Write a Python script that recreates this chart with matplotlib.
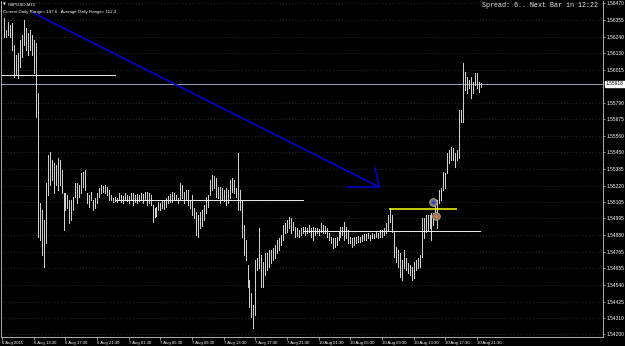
import matplotlib
matplotlib.use("Agg")
import matplotlib.pyplot as plt
import matplotlib.transforms as mtransforms
import numpy as np

# ---------------- data (GBPUSD, M15) ----------------
bar_high = [
    1.56370, 1.56288, 1.56343, 1.56323, 1.56336, 1.56186, 1.56117, 1.56130, 1.56220, 1.56254,
    1.56357, 1.56302, 1.56267, 1.56288, 1.56254, 1.56220, 1.56199, 1.55856, 1.55101, 1.55053,
    1.54985, 1.55238, 1.55431, 1.55451, 1.55396, 1.55375, 1.55362, 1.55410, 1.55396, 1.55328,
    1.55170, 1.55170, 1.55157, 1.55122, 1.55122, 1.55143, 1.55238, 1.55238, 1.55225, 1.55307,
    1.55314, 1.55328, 1.55170, 1.55157, 1.55177, 1.55122, 1.55136, 1.55170, 1.55204, 1.55225,
    1.55218, 1.55225, 1.55211, 1.55191, 1.55157, 1.55136, 1.55143, 1.55136, 1.55170, 1.55157,
    1.55150, 1.55170, 1.55157, 1.55150, 1.55170, 1.55170, 1.55157, 1.55164, 1.55157, 1.55170,
    1.55164, 1.55177, 1.55177, 1.55170, 1.55157, 1.55088, 1.55067, 1.55074, 1.55108, 1.55101,
    1.55122, 1.55115, 1.55136, 1.55150, 1.55164, 1.55177, 1.55170, 1.55157, 1.55136, 1.55238,
    1.55225, 1.55177, 1.55191, 1.55191, 1.55122, 1.55157, 1.55067, 1.55039, 1.55019, 1.55039,
    1.55053, 1.55088, 1.55143, 1.55157, 1.55259, 1.55294, 1.55287, 1.55273, 1.55211, 1.55211,
    1.55204, 1.55191, 1.55204, 1.55191, 1.55259, 1.55273, 1.55259, 1.55204, 1.55444, 1.55191,
    1.55122, 1.54951, 1.54848, 1.54676, 1.54573, 1.54484, 1.54402, 1.54710, 1.54724, 1.54930,
    1.54745, 1.54696, 1.54758, 1.54758, 1.54779, 1.54779, 1.54793, 1.54813, 1.54848, 1.54861,
    1.54882, 1.54951, 1.54964, 1.54985, 1.55005, 1.54998, 1.54971, 1.54937, 1.54930, 1.54916,
    1.54930, 1.54937, 1.54937, 1.54930, 1.54951, 1.54930, 1.54937, 1.54930, 1.54930, 1.54923,
    1.54964, 1.54951, 1.54944, 1.54930, 1.54895, 1.54868, 1.54861, 1.54861, 1.54868, 1.54902,
    1.54937, 1.54937, 1.54971, 1.54937, 1.54916, 1.54868, 1.54861, 1.54868, 1.54868, 1.54875,
    1.54868, 1.54882, 1.54889, 1.54889, 1.54895, 1.54882, 1.54895, 1.54889, 1.54902, 1.54895,
    1.54916, 1.54916, 1.54930, 1.54964, 1.55019, 1.55067, 1.55019, 1.54902, 1.54800, 1.54779,
    1.54758, 1.54710, 1.54779, 1.54724, 1.54690, 1.54676, 1.54662, 1.54696, 1.54710, 1.54724,
    1.54745, 1.54998, 1.54998, 1.55019, 1.55019, 1.55019, 1.55032, 1.55032, 1.55108, 1.55122,
    1.55191, 1.55204, 1.55314, 1.55307, 1.55444, 1.55465, 1.55486, 1.55479, 1.55444, 1.55465,
    1.55739, 1.55739, 1.56062, 1.56000, 1.55966, 1.55945, 1.55966, 1.55932, 1.55993, 1.55993,
    1.55932, 1.55925,
]
bar_low = [
    1.56240, 1.56240, 1.56254, 1.56240, 1.56151, 1.55966, 1.55980, 1.55959, 1.56034, 1.56103,
    1.56186, 1.56151, 1.56117, 1.56151, 1.56117, 1.55993, 1.55691, 1.54868, 1.54848, 1.54745,
    1.54662, 1.54827, 1.55157, 1.55225, 1.55259, 1.55170, 1.55225, 1.55191, 1.55225, 1.55170,
    1.54916, 1.55053, 1.55067, 1.54964, 1.54985, 1.55053, 1.55143, 1.55101, 1.55143, 1.55170,
    1.55211, 1.55191, 1.55101, 1.55074, 1.55122, 1.55053, 1.55067, 1.55101, 1.55143, 1.55170,
    1.55177, 1.55170, 1.55157, 1.55122, 1.55122, 1.55108, 1.55115, 1.55108, 1.55122, 1.55108,
    1.55101, 1.55122, 1.55115, 1.55101, 1.55122, 1.55088, 1.55108, 1.55101, 1.55115, 1.55122,
    1.55101, 1.55122, 1.55088, 1.55101, 1.55088, 1.54971, 1.55005, 1.55012, 1.55053, 1.55053,
    1.55067, 1.55060, 1.55074, 1.55101, 1.55108, 1.55108, 1.55122, 1.55122, 1.55101, 1.55122,
    1.55136, 1.55101, 1.55122, 1.55088, 1.55067, 1.55019, 1.54998, 1.54882, 1.54868, 1.54930,
    1.54944, 1.54985, 1.55032, 1.55074, 1.55157, 1.55191, 1.55204, 1.55143, 1.55136, 1.55101,
    1.55122, 1.55115, 1.55088, 1.55101, 1.55136, 1.55177, 1.55170, 1.55143, 1.55053, 1.55053,
    1.54868, 1.54745, 1.54710, 1.54525, 1.54388, 1.54320, 1.54244, 1.54333, 1.54642, 1.54656,
    1.54525, 1.54525, 1.54608, 1.54642, 1.54662, 1.54690, 1.54710, 1.54724, 1.54758, 1.54779,
    1.54813, 1.54848, 1.54895, 1.54902, 1.54930, 1.54895, 1.54916, 1.54868, 1.54875, 1.54868,
    1.54882, 1.54895, 1.54882, 1.54895, 1.54902, 1.54868, 1.54848, 1.54882, 1.54895, 1.54882,
    1.54902, 1.54895, 1.54895, 1.54868, 1.54848, 1.54827, 1.54793, 1.54800, 1.54813, 1.54848,
    1.54868, 1.54882, 1.54848, 1.54861, 1.54827, 1.54827, 1.54800, 1.54813, 1.54827, 1.54834,
    1.54834, 1.54841, 1.54848, 1.54848, 1.54861, 1.54848, 1.54861, 1.54861, 1.54868, 1.54861,
    1.54868, 1.54868, 1.54882, 1.54895, 1.54916, 1.54971, 1.54902, 1.54731, 1.54696, 1.54662,
    1.54594, 1.54573, 1.54656, 1.54642, 1.54621, 1.54608, 1.54573, 1.54587, 1.54642, 1.54656,
    1.54662, 1.54731, 1.54861, 1.54902, 1.54916, 1.54930, 1.54848, 1.54951, 1.54998, 1.54930,
    1.55101, 1.55122, 1.55191, 1.55204, 1.55307, 1.55375, 1.55396, 1.55396, 1.55348, 1.55396,
    1.55410, 1.55657, 1.55657, 1.55877, 1.55856, 1.55890, 1.55822, 1.55856, 1.55911, 1.55890,
    1.55863, 1.55897,
]
first_bar = 1          # bar index of the first bar (index 0 = 6 Aug 09:30)

time_labels = ["6 Aug 2015", "6 Aug 13:30", "6 Aug 17:30", "6 Aug 21:30",
               "7 Aug 01:30", "7 Aug 05:30", "7 Aug 09:30", "7 Aug 13:30",
               "7 Aug 17:30", "7 Aug 21:30", "10 Aug 01:30", "10 Aug 05:30",
               "10 Aug 09:30", "10 Aug 13:30", "10 Aug 17:30", "10 Aug 21:30"]
bars_per_label = 16

price_ticks = [1.56470, 1.56355, 1.56240, 1.56130, 1.56015, 1.55790, 1.55675,
               1.55560, 1.55450, 1.55335, 1.55220, 1.55105, 1.54995, 1.54880,
               1.54765, 1.54655, 1.54540, 1.54425, 1.54310, 1.54200]
current_price = 1.55918

# horizontal level objects: (start bar, end bar, price)
day_levels = [(0, 57, 1.55980), (57, 152, 1.55122), (152, 241.5, 1.54910)]
yellow_level = (195.5, 230, 1.55060)

# trend arrow (bar, price)
trend_start = (15.8, 1.56405)
trend_end = (190.5, 1.55211)
arrow_left = (174.4, 1.55211)
arrow_top = (188.5, 1.55342)

# trade marks (bar, price)
trade_buy = (218.0, 1.55110)
trade_sell = (219.2, 1.55014)

# ---------------- drawing ----------------
W, H = 625, 346
fig = plt.figure(figsize=(W / 100, H / 100), dpi=100, facecolor="black")
ax = fig.add_axes([1.5 / W, 9 / H, 601.5 / W, 336 / H])
ax.set_facecolor("black")
ax.set_xlim(-0.35, 303.7)
ax.set_ylim(1.54182, 1.56487)

# grid
for p in price_ticks:
    ax.axhline(p, color="#3c3c3c", lw=0.5, linestyle=(0, (1.5, 3)), zorder=0)

idx = np.arange(len(bar_high)) + first_bar
ax.vlines(idx, bar_low, bar_high, color="#cfcfcf", lw=0.5, antialiased=False, zorder=3)

# current price line
ax.axhline(current_price, color="#8e9aa6", lw=0.5, zorder=2, antialiased=False)

for x0, x1, p in day_levels:
    ax.hlines(p, x0, x1, color="#e6e6e6", lw=0.5, zorder=4, antialiased=False)
ax.hlines(yellow_level[2], yellow_level[0], yellow_level[1], color="#ffff00",
          lw=1.1, zorder=4, antialiased=True)

# blue trend arrow
ax.plot([trend_start[0], trend_end[0]], [trend_start[1], trend_end[1]],
        color="#0000f0", lw=1.0, zorder=5, solid_capstyle="butt")
ax.plot([arrow_left[0], trend_end[0], arrow_top[0]],
        [arrow_left[1], trend_end[1], arrow_top[1]],
        color="#0000f0", lw=1.0, zorder=5)

# trade marks
for (bx, by), inner in ((trade_buy, "#1a3cff"), (trade_sell, "#ff7a1a")):
    ax.plot(bx, by, "o", ms=5.5, mfc="#7d7468", mec="#b8aa98", mew=0.6, zorder=6)
    ax.plot(bx, by, "+", ms=3, color=inner, mew=0.9, zorder=7)

# axes frame
for side in ("left", "bottom", "right"):
    ax.spines[side].set_color("#c8c8c8")
    ax.spines[side].set_linewidth(0.6)
ax.spines["top"].set_visible(False)

small_font = ["Liberation Sans Narrow", "Liberation Sans", "DejaVu Sans"]

ax.yaxis.tick_right()
ax.set_yticks(price_ticks)
ax.set_yticklabels([f"{p:.5f}" for p in price_ticks], family=small_font,
                   fontsize=3.5, color="white")
ax.tick_params(axis="y", colors="#c8c8c8", length=1.5, width=0.5, pad=1.0,
               labelcolor="white")

xt = [i * bars_per_label for i in range(len(time_labels))]
ax.set_xticks(xt)
ax.set_xticklabels(time_labels, family=small_font, fontsize=3.1,
                   color="white", ha="left")
ax.tick_params(axis="x", colors="#c8c8c8", length=2, width=0.5, pad=0.8,
               labelcolor="white")

# current price box on the axis
blend = mtransforms.blended_transform_factory(ax.transAxes, ax.transData)
ax.text(1.005, current_price, f"{current_price:.5f}", transform=blend,
        ha="left", va="center", family=small_font, fontsize=3.5, color="black",
        bbox=dict(boxstyle="square,pad=0.15", fc="white", ec="white"), zorder=10,
        clip_on=False)

# header texts
fig.text(3 / W, 1 - 5 / H, "\u25bc", color="white", fontsize=2.6, va="center",
         ha="left", family="DejaVu Sans")
fig.text(8 / W, 1 - 5 / H, "GBPUSD,M15", color="white", fontsize=3.2,
         va="center", ha="left", family=small_font)
fig.text(3 / W, 1 - 12.5 / H,
         "Current Daily Range= 147.6 . Average Daily Range= 112.3",
         color="white", fontsize=3.2, va="center", ha="left", family=small_font)
fig.text(598 / W, 1 - 5.5 / H, "Spread: 6.. Next Bar in 12:22", color="#e8e8e8",
         fontsize=4.8, va="center", ha="right",
         family=["Liberation Mono", "DejaVu Sans Mono"])

fig.savefig("out.png", dpi=100, facecolor="black")
